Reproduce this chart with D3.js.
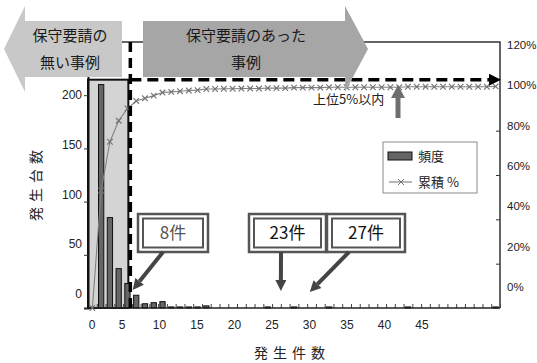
<!DOCTYPE html>
<html><head><meta charset="utf-8">
<script src="https://cdn.jsdelivr.net/npm/d3@7"></script>
<style>body{margin:0;background:#fff}svg{display:block}</style>
</head><body>
<svg id="c" width="537" height="363"></svg>
<script>
// ---- data ----
const categories = d3.range(0, 47);
const frequency = [0,210,85,37,23,12,4,5,6,1,1,1,1,2,0,0,0,0,0,0,1,0,0,1,0,0,0,1,0,0,0,0,0,0,0,0,1,0,0,0,0,0,0,0,0,0,1];
const cumulativePct = [0,53,75,84.5,90,93.4,94.6,95.8,97.2,97.5,97.8,98.1,98.3,98.8,98.8,98.9,98.9,99,99,99,99.2,99.2,99.2,99.4,99.4,99.4,99.4,99.6,99.6,99.6,99.6,99.6,99.6,99.6,99.6,99.6,99.8,99.8,99.8,99.8,99.8,99.8,99.8,99.8,99.8,99.8,100];
const leftTickLabels = [0,50,100,150,200];
const leftTickMarks = [0,50,100,150,200,250];
const rightTickLabels = [0,20,40,60,80,100,120];
const xTickLabels = [0,5,10,15,20,25,30,35,40,45];
const legendLabels = ["頻度","累積 %"];
const leftArrowText = ["保守要請の","無い事例"];
const rightArrowText = ["保守要請のあった","事例"];
const annotations = [
  {label:"8件", box:[138,214,70,38], from:[163,252], tipCat:4.6, tipVal:17, color:"#555"},
  {label:"23件", box:[249,214,77,38], from:[281,252], tipCat:21.5, tipVal:16, color:"#111"},
  {label:"27件", box:[327,214,78,38], from:[349,252], tipCat:24.8, tipVal:15, color:"#111"}
];

// ---- layout ----
const L = 88, R = 500, T = 42, B = 308;
const svg = d3.select("#c");
const jp = "'Noto Sans CJK JP','Noto Sans',sans-serif";
const num = "'Liberation Sans',Arial,sans-serif";

const x = d3.scaleBand().domain(categories).range([L, R]).paddingInner(0.4).paddingOuter(0.2);
const xEdge = d3.scaleLinear().domain([0, categories.length]).range([L, R]);
const xCenter = c => x(c) + x.bandwidth() / 2;
const xLab = d3.scaleLinear().domain([0, 5, 45]).range([92, 122, 422]);
const yL = d3.scaleLinear().domain([0, 250]).range([B, T]);
const yR = d3.scaleLinear().domain([0, 120]).range([B, T]);
const yLlab = d3.scaleLinear().domain([0, 200]).range([294, 95]);
const yRlab = d3.scaleLinear().domain([0, 120]).range([287, 45]);

svg.append("rect").attr("width", 537).attr("height", 363).attr("fill", "#fff");

// frame top & right
svg.append("path").attr("d", `M${L},${T}H${R}V${B}`).attr("fill", "none").attr("stroke", "#333").attr("stroke-width", 1.5);

// shaded region
const rectTop = yR(103);
svg.append("rect").attr("x", xEdge(0)).attr("y", rectTop)
  .attr("width", xEdge(5) - 3.5 - xEdge(0)).attr("height", B - rectTop)
  .attr("fill", "#d4d4d4").attr("stroke", "#111").attr("stroke-width", 2);

// x ticks (inward)
svg.append("g").attr("transform", `translate(0,${B})`)
  .call(d3.axisBottom(xEdge).tickValues(d3.range(0, categories.length + 1)).tickSize(-4).tickFormat(""))
  .call(g => g.select(".domain").remove())
  .call(g => g.selectAll("line").attr("stroke", "#444"));

// bars
svg.append("g").selectAll("rect").data(categories.filter(c => frequency[c] > 0)).join("rect")
  .attr("x", c => x(c)).attr("width", x.bandwidth())
  .attr("y", c => yL(frequency[c])).attr("height", c => B - yL(frequency[c]))
  .attr("fill", "#666").attr("stroke", "#111").attr("stroke-width", 1);

// left axis
svg.append("g").attr("transform", `translate(${L},0)`)
  .call(d3.axisLeft(yL).tickValues(leftTickMarks).tickSize(4).tickFormat(""))
  .call(g => g.select(".domain").attr("stroke", "#111").attr("stroke-width", 2))
  .call(g => g.selectAll("line").attr("stroke", "#333"));
svg.append("g").selectAll("text").data(leftTickLabels).join("text")
  .attr("x", 82).attr("y", d => yLlab(d)).attr("dy", "0.35em").attr("text-anchor", "end")
  .attr("font-family", num).attr("font-size", 12).attr("fill", "#222").text(d => d);

// right axis
svg.append("g").attr("transform", `translate(${R},0)`)
  .call(d3.axisRight(yR).tickValues([20,40,60,80]).tickSize(-4).tickFormat(""))
  .call(g => g.select(".domain").remove())
  .call(g => g.selectAll("line").attr("stroke", "#333"));
svg.append("g").selectAll("text").data(rightTickLabels).join("text")
  .attr("x", 507).attr("y", d => yRlab(d)).attr("dy", "0.35em")
  .attr("font-family", num).attr("font-size", 11.5).attr("fill", "#222").text(d => d + "%");

// bottom axis line
svg.append("line").attr("x1", L).attr("x2", R).attr("y1", B).attr("y2", B).attr("stroke", "#222").attr("stroke-width", 1.5);

// x labels
svg.append("g").selectAll("text").data(xTickLabels).join("text")
  .attr("x", d => xLab(d)).attr("y", 325).attr("dy", "0.35em").attr("text-anchor", "middle")
  .attr("font-family", num).attr("font-size", 12).attr("fill", "#222").text(d => d);

// cumulative line
const lineGen = d3.line().x(c => xCenter(c)).y(c => yR(cumulativePct[c]));
svg.append("path").datum(categories).attr("d", lineGen).attr("fill", "none").attr("stroke", "#808080").attr("stroke-width", 1.1);
svg.append("g").selectAll("path").data(categories).join("path")
  .attr("d", c => { const cx = xCenter(c), cy = yR(cumulativePct[c]), s = 2.8; return `M${cx-s},${cy-s}L${cx+s},${cy+s}M${cx-s},${cy+s}L${cx+s},${cy-s}`; })
  .attr("stroke", "#707070").attr("stroke-width", 1.1).attr("fill", "none");

// vertical dashed
const vx = xEdge(5) - 1.5;
svg.append("line").attr("x1", vx).attr("x2", vx).attr("y1", T).attr("y2", B)
  .attr("stroke", "#000").attr("stroke-width", 3.5).attr("stroke-dasharray", "10,6");
// horizontal dashed with arrow
const hy = yR(103);
svg.append("line").attr("x1", vx).attr("x2", 491).attr("y1", hy).attr("y2", hy)
  .attr("stroke", "#000").attr("stroke-width", 3.5).attr("stroke-dasharray", "11,6");
svg.append("path").attr("d", `M489,${hy-6}L501,${hy}L489,${hy+6}Z`).attr("fill", "#000");

// top arrows
svg.append("path").attr("d", "M4,49L25,6V21H122V77H25V92Z").attr("fill", "#c8c8c8");
svg.append("path").attr("d", "M143,21H345V6L368,49L345,92V77H143Z").attr("fill", "#a6a6a6");
leftArrowText.forEach((t, i) => svg.append("text").attr("x", 70).attr("y", 36 + i * 27).attr("dy", "0.35em")
  .attr("text-anchor", "middle").attr("font-family", jp).attr("font-size", 15).attr("fill", "#1a1a1a").text(t));
rightArrowText.forEach((t, i) => svg.append("text").attr("x", 246).attr("y", 36 + i * 27).attr("dy", "0.35em")
  .attr("text-anchor", "middle").attr("font-family", jp).attr("font-size", 15).attr("fill", "#1a1a1a").text(t));

// 上位5%以内
svg.append("text").attr("x", 313).attr("y", 99).attr("dy", "0.35em").attr("font-family", jp).attr("font-size", 13).attr("fill", "#222").text("上位5%以内");
svg.append("line").attr("x1", 398).attr("x2", 398).attr("y1", 118).attr("y2", 96).attr("stroke", "#6e6e6e").attr("stroke-width", 5);
svg.append("path").attr("d", "M391,98L398,85L405,98Z").attr("fill", "#6e6e6e");

// legend
svg.append("rect").attr("x", 383).attr("y", 142).attr("width", 94).attr("height", 51).attr("fill", "#fff").attr("stroke", "#8a8a8a").attr("stroke-width", 1);
svg.append("rect").attr("x", 388).attr("y", 152).attr("width", 24).attr("height", 8).attr("fill", "#666").attr("stroke", "#111");
svg.append("line").attr("x1", 389).attr("x2", 412).attr("y1", 182).attr("y2", 182).attr("stroke", "#707070");
svg.append("path").attr("d", "M398,179L404,185M398,185L404,179").attr("stroke", "#707070");
legendLabels.forEach((t, i) => svg.append("text").attr("x", 418).attr("y", 156 + i * 26).attr("dy", "0.35em")
  .attr("font-family", jp).attr("font-size", 13).attr("fill", "#222").text(t));

// annotations
function arrow(x1, y1, x2, y2, col) {
  const a = Math.atan2(y2 - y1, x2 - x1), hl = 11, hw = 5.5;
  const bx = x2 - hl * Math.cos(a), by = y2 - hl * Math.sin(a);
  svg.append("line").attr("x1", x1).attr("y1", y1).attr("x2", bx).attr("y2", by).attr("stroke", col).attr("stroke-width", 4);
  const px = -Math.sin(a) * hw, py = Math.cos(a) * hw;
  svg.append("path").attr("d", `M${x2},${y2}L${bx+px},${by+py}L${bx-px},${by-py}Z`).attr("fill", col);
}
annotations.forEach(an => {
  const [bx, by, bw, bh] = an.box;
  svg.append("rect").attr("x", bx).attr("y", by).attr("width", bw).attr("height", bh).attr("fill", "#fff").attr("stroke", "#555").attr("stroke-width", 2.5);
  svg.append("rect").attr("x", bx + 5).attr("y", by + 4.5).attr("width", bw - 10).attr("height", bh - 9).attr("fill", "#fff").attr("stroke", "#555").attr("stroke-width", 2);
  svg.append("text").attr("x", bx + bw / 2).attr("y", by + bh / 2).attr("dy", "0.36em").attr("text-anchor", "middle")
    .attr("font-family", jp).attr("font-size", 17).attr("fill", an.color).text(an.label);
  const tx = xEdge(an.tipCat + 0.5), ty = yL(an.tipVal);
  arrow(an.from[0], an.from[1], tx, ty, "#444");
});

// axis titles
svg.append("text").attr("x", 292).attr("y", 353).attr("dy", "0.35em").attr("text-anchor", "middle")
  .attr("font-family", jp).attr("font-size", 14).attr("letter-spacing", 5).attr("fill", "#222").text("発生件数");
svg.append("text").attr("transform", "translate(36,183) rotate(-90)").attr("dy", "0.35em").attr("text-anchor", "middle")
  .attr("font-family", jp).attr("font-size", 14).attr("letter-spacing", 5).attr("fill", "#222").text("発生台数");
</script>
</body></html>
